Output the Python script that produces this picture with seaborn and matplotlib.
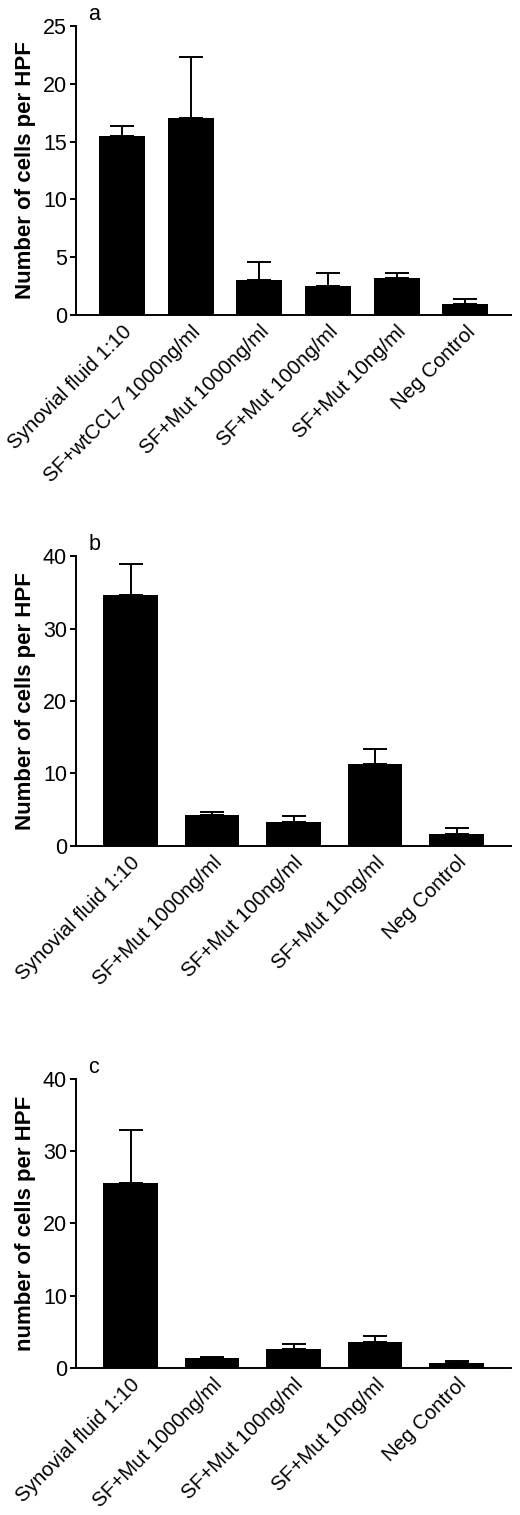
import matplotlib
matplotlib.use('Agg')
import matplotlib.pyplot as plt
import seaborn as sns
import numpy as np

# panel a
labels_a = ['Synovial fluid 1:10', 'SF+wtCCL7 1000ng/ml', 'SF+Mut 1000ng/ml',
            'SF+Mut 100ng/ml', 'SF+Mut 10ng/ml', 'Neg Control']
means_a = [15.5, 17.0, 3.0, 2.5, 3.25, 1.0]
errs_a = [0.85, 5.3, 1.6, 1.15, 0.4, 0.38]

# panel b
labels_b = ['Synovial fluid 1:10', 'SF+Mut 1000ng/ml', 'SF+Mut 100ng/ml',
            'SF+Mut 10ng/ml', 'Neg Control']
means_b = [34.7, 4.3, 3.3, 11.25, 1.65]
errs_b = [4.3, 0.4, 0.85, 2.15, 0.85]

# panel c
labels_c = ['Synovial fluid 1:10', 'SF+Mut 1000ng/ml', 'SF+Mut 100ng/ml',
            'SF+Mut 10ng/ml', 'Neg Control']
means_c = [25.6, 1.35, 2.7, 3.55, 0.75]
errs_c = [7.3, 0.2, 0.65, 0.9, 0.18]

sns.set_style('ticks')
plt.rcParams['font.family'] = ['Liberation Sans', 'DejaVu Sans']
plt.rcParams['axes.linewidth'] = 1.4
plt.rcParams['axes.edgecolor'] = 'black'
plt.rcParams['text.color'] = 'black'
plt.rcParams['axes.labelcolor'] = 'black'
plt.rcParams['xtick.color'] = 'black'
plt.rcParams['ytick.color'] = 'black'

fig = plt.figure(figsize=(5.2, 15.15), dpi=100)

panels = [
    # letter, labels, means, errs, ylim, ystep, ylabel, axes rect
    ('a', labels_a, means_a, errs_a, 25, 5, 'Number of cells per HPF', [0.146, 0.792, 0.837, 0.191]),
    ('b', labels_b, means_b, errs_b, 40, 10, 'Number of cells per HPF', [0.146, 0.4418, 0.837, 0.191]),
    ('c', labels_c, means_c, errs_c, 40, 10, 'number of cells per HPF', [0.146, 0.097, 0.837, 0.191]),
]

for letter, labels, means, errs, ytop, ystep, ylabel, rect in panels:
    ax = fig.add_axes(rect)
    n = len(labels)
    sns.barplot(x=labels, y=means, color='black', width=0.67, ax=ax,
                saturation=1, edgecolor='black', linewidth=0)
    ax.errorbar(np.arange(n), means, yerr=[np.zeros(n), errs], fmt='none',
                ecolor='black', elinewidth=1.4, capsize=8.5, capthick=1.4)
    ax.set_xlim(-0.67, n - 1 + 0.67)
    ax.set_ylim(0, ytop)
    ax.set_yticks(np.arange(0, ytop + 1, ystep))
    ax.tick_params(axis='y', labelsize=15.5, length=4.5, width=1.4, pad=2)
    ax.tick_params(axis='x', length=0, labelsize=14.8, pad=5)
    ax.set_xticks(np.arange(n))
    ax.set_xticklabels(labels, rotation=45, ha='right', rotation_mode='anchor')
    ax.set_ylabel(ylabel, fontsize=16, fontweight='bold', labelpad=5)
    ax.text(0.028, 1.04, letter, transform=ax.transAxes, fontsize=15.5,
            ha='left', va='center')
    sns.despine(ax=ax)

fig.savefig('out.png', dpi=100)
